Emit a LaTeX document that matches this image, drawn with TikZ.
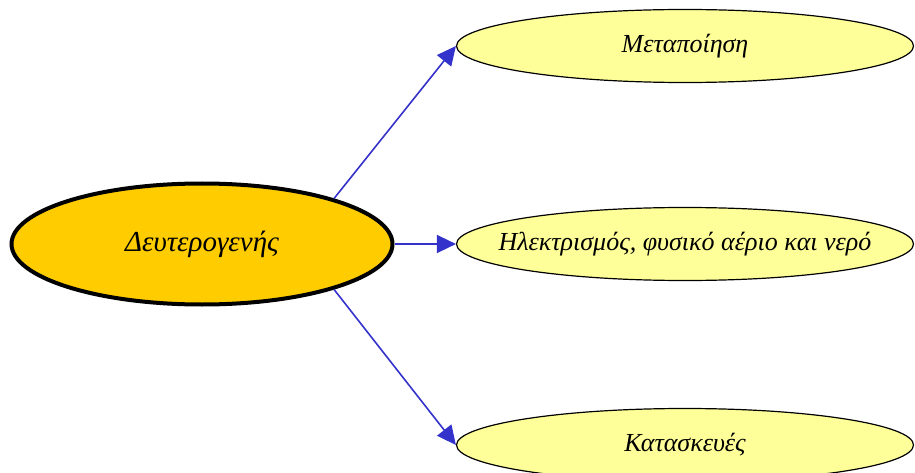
\documentclass[tikz,border=0pt]{standalone}
\usepackage{fontspec}
\setmainfont{Liberation Serif}
\usepackage{xcolor}
\usetikzlibrary{arrows.meta, shapes.geometric}

\definecolor{secfill}{HTML}{FFCC00}
\definecolor{subfill}{HTML}{FFFF99}
\definecolor{linkblue}{HTML}{3333CC}

\begin{document}
\begin{tikzpicture}[
    x=1pt, y=1pt,
    secbox/.style={ellipse, draw, line width=4pt, fill=secfill,
                minimum width=381pt, minimum height=121pt, inner sep=0pt,
                label={[font=\fontsize{29}{34}\selectfont\itshape]center:#1}},
    subbox/.style={ellipse, draw, line width=1.2pt, fill=subfill,
                minimum width=457pt, minimum height=73pt, inner sep=0pt,
                label={[font=\fontsize{26}{31}\selectfont\itshape]center:#1}},
    arrow/.style={-{Triangle[length=19pt, width=18pt]}, line width=1.6pt, linkblue}
    ]
    \useasboundingbox (0,0) rectangle (915,472);
    \node[secbox={Δευτερογενής}] (sec) at (202,228) {};
    \node[subbox={Μεταποίηση}] (manuf) at (685,426) {};
    \node[subbox={Ηλεκτρισμός, φυσικό αέριο και νερό}] (energy) at (685,228) {};
    \node[subbox={Κατασκευές}] (constr) at (685,27) {};
    \draw[arrow] (sec.19) -- (manuf.west);
    \draw[arrow] (sec.east) -- (energy.west);
    \draw[arrow] (sec.-19) -- (constr.west);
  \end{tikzpicture}
\end{document}
